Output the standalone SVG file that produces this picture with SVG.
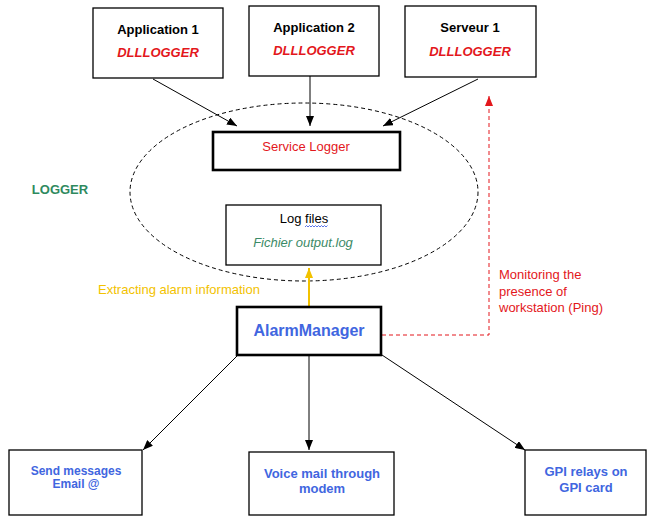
<svg xmlns="http://www.w3.org/2000/svg" width="652" height="524" viewBox="0 0 652 524">
<defs>
<style>
text{font-family:"Liberation Sans",Arial,sans-serif;font-size:13px;text-anchor:middle}
.box{fill:#fff;stroke:#000;stroke-width:1.3}
.thick{fill:#fff;stroke:#000;stroke-width:2.6}
.title{font-weight:bold;fill:#000}
.dll{font-weight:bold;font-style:italic;fill:#e3171c}
.blue{font-weight:bold;fill:#4166e0}
.red{fill:#e3171c}
.conn{stroke:#000;stroke-width:1;fill:none}
</style>
<marker id="ah" markerUnits="userSpaceOnUse" markerWidth="10" markerHeight="8" refX="10" refY="4" orient="auto"><path d="M0,0 L10,4 L0,8 z" fill="#000"/></marker>
<marker id="ahy" markerUnits="userSpaceOnUse" markerWidth="10" markerHeight="8" refX="10" refY="4" orient="auto"><path d="M0,0 L10,4 L0,8 z" fill="#f2c200"/></marker>
<marker id="ahr" markerUnits="userSpaceOnUse" markerWidth="10" markerHeight="8" refX="10" refY="4" orient="auto"><path d="M0,0 L10,4 L0,8 z" fill="#e3171c"/></marker>
</defs>
<rect width="652" height="524" fill="#fff"/>

<g id="logger-zone">
<ellipse cx="304" cy="192" rx="174" ry="89" fill="none" stroke="#000" stroke-width="1" stroke-dasharray="4,3"/>
<text x="60" y="194" style="font-weight:bold;fill:#2f8a5e">LOGGER</text>
</g>

<g id="connectors">
<line class="conn" x1="153" y1="79" x2="237" y2="126" marker-end="url(#ah)"/>
<line class="conn" x1="310" y1="76" x2="310" y2="126" marker-end="url(#ah)"/>
<line class="conn" x1="478" y1="79" x2="383" y2="126" marker-end="url(#ah)"/>
<line x1="309" y1="307" x2="309" y2="268" stroke="#f2c200" stroke-width="2" marker-end="url(#ahy)"/>
<path d="M382,335 H489 V96" fill="none" stroke="#e3171c" stroke-width="1" stroke-dasharray="4,3" marker-end="url(#ahr)"/>
<line class="conn" x1="238" y1="355" x2="143" y2="450" marker-end="url(#ah)"/>
<line class="conn" x1="309" y1="355" x2="309" y2="450" marker-end="url(#ah)"/>
<line class="conn" x1="382" y1="355" x2="525" y2="450" marker-end="url(#ah)"/>
</g>

<g id="app1">
<rect class="box" x="93" y="8" width="130" height="70"/>
<text class="title" x="158" y="34">Application 1</text>
<text class="dll" x="158" y="57">DLLLOGGER</text>
</g>
<g id="app2">
<rect class="box" x="249" y="6" width="130" height="70"/>
<text class="title" x="314" y="32">Application 2</text>
<text class="dll" x="314" y="55">DLLLOGGER</text>
</g>
<g id="serveur1">
<rect class="box" x="405" y="6" width="131" height="71"/>
<text class="title" x="470" y="32">Serveur 1</text>
<text class="dll" x="470" y="56">DLLLOGGER</text>
</g>

<g id="service-logger">
<rect class="thick" x="213" y="132" width="187" height="38"/>
<text class="red" x="306" y="151">Service Logger</text>
</g>

<g id="log-files">
<rect class="box" x="226" y="205" width="155" height="60"/>
<text x="304" y="223" fill="#000">Log files</text>
<path d="M305,227 l1.5,-1.5 l1.5,1.5 l1.5,-1.5 l1.5,1.5 l1.5,-1.5 l1.5,1.5 l1.5,-1.5 l1.5,1.5 l1.5,-1.5 l1.5,1.5 l1.5,-1.5 l1.5,1.5 l1.5,-1.5 l1.5,1.5 l1.5,-1.5" fill="none" stroke="#3050e0" stroke-width="0.8"/>
<text x="303" y="247" style="font-style:italic;fill:#3b8a66">Fichier output.log</text>
</g>

<g id="extract-label">
<text x="179" y="294" style="fill:#f2c200">Extracting alarm information</text>
</g>

<g id="alarm-manager">
<rect class="thick" x="237" y="307" width="144" height="48"/>
<text class="blue" x="309" y="336" style="font-size:16px">AlarmManager</text>
</g>

<g id="monitor-label">
<text class="red" x="499" y="279" style="text-anchor:start">Monitoring the</text>
<text class="red" x="499" y="296" style="text-anchor:start">presence of</text>
<text class="red" x="499" y="312" style="text-anchor:start">workstation (Ping)</text>
</g>

<g id="email">
<rect class="box" x="9" y="450" width="133" height="65"/>
<text class="blue" x="76" y="475" style="font-size:12px">Send messages</text>
<text class="blue" x="76" y="488" style="font-size:12px">Email @</text>
</g>
<g id="voice">
<rect class="box" x="249" y="452" width="145" height="63"/>
<text class="blue" x="322" y="478">Voice mail through</text>
<text class="blue" x="322" y="493">modem</text>
</g>
<g id="gpi">
<rect class="box" x="525" y="450" width="121" height="65"/>
<text class="blue" x="586" y="476">GPI relays on</text>
<text class="blue" x="586" y="492">GPI card</text>
</g>
</svg>
